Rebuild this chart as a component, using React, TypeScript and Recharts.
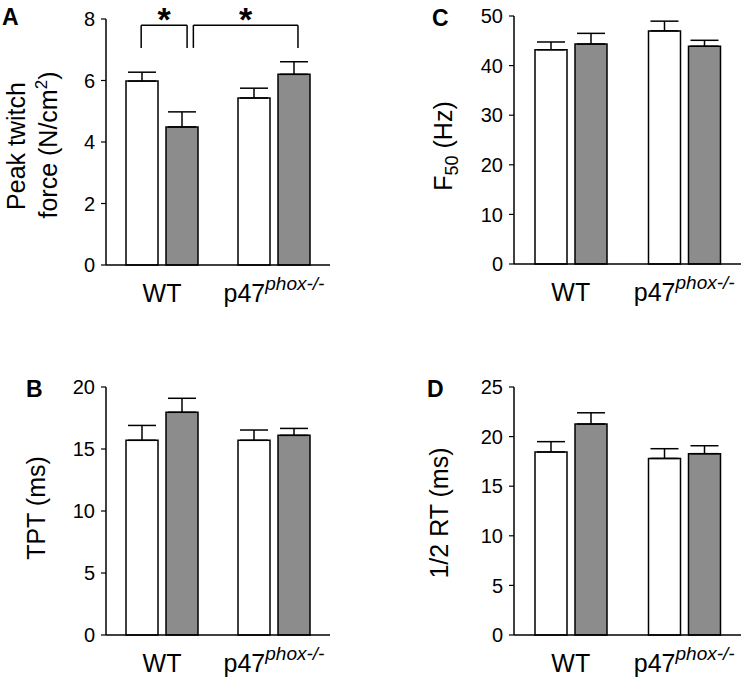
import React from 'react';
import {
  BarChart,
  Bar,
  XAxis,
  YAxis,
  ErrorBar,
  ReferenceLine,
  ReferenceDot,
  Customized,
} from 'recharts';

// Groups on the x axis
const GROUPS = ['WT', 'p47'];

// A: peak twitch force (N/cm2)
const forceWhite = [5.98, 5.43];
const forceWhiteErr = [0.29, 0.32];
const forceGray = [4.49, 6.2];
const forceGrayErr = [0.49, 0.41];

// B: TPT (ms)
const tptWhite = [15.7, 15.7];
const tptWhiteErr = [1.2, 0.83];
const tptGray = [17.96, 16.1];
const tptGrayErr = [1.13, 0.56];

// C: F50 (Hz)
const f50White = [43.2, 47.0];
const f50WhiteErr = [1.56, 1.96];
const f50Gray = [44.35, 43.9];
const f50GrayErr = [2.15, 1.2];

// D: 1/2 RT (ms)
const rtWhite = [18.45, 17.8];
const rtWhiteErr = [1.04, 0.98];
const rtGray = [21.27, 18.28];
const rtGrayErr = [1.13, 0.8];

// Significance brackets in panel A (hidden 0..1 axis across the plot, WT = 0..0.5)
const bracketStart = [0.157, 0.39];
const bracketEnd = [0.362, 0.857];
const bracketTop = 7.8;
const bracketLeg = 7.06;
const starY = 8.0;

const FONT = '"Liberation Sans", Arial, Helvetica, sans-serif';
const GRAY = '#8c8c8c';

const buildRows = (white: number[], whiteErr: number[], gray: number[], grayErr: number[]) =>
  GROUPS.map((g, i) => ({
    group: g,
    white: white[i],
    whiteErr: [0, whiteErr[i]],
    gray: gray[i],
    grayErr: [0, grayErr[i]],
  }));

const GroupTick = (props: any) => {
  const { x, y, payload } = props;
  if (payload.value === 'p47') {
    return (
      <text x={x} y={y + 37} textAnchor="middle" fontSize={25} fill="#000" fontFamily={FONT}>
        p47
        <tspan fontSize={19} fontStyle="italic" dy={-12}>
          phox-/-
        </tspan>
      </text>
    );
  }
  return (
    <text x={x} y={y + 37} textAnchor="middle" fontSize={25} fill="#000" fontFamily={FONT}>
      {payload.value}
    </text>
  );
};

interface TitleLine {
  x: number;
  y: number;
  node: React.ReactNode;
}

const Titles = ({ letter, letterX, letterY, lines }: { letter: string; letterX: number; letterY: number; lines: TitleLine[] }) => (
  <g fontFamily={FONT} fill="#000">
    <text x={letterX} y={letterY} fontSize={23} fontWeight="bold">
      {letter}
    </text>
    {lines.map((l, i) => (
      <text
        key={i}
        x={l.x}
        y={l.y}
        fontSize={25}
        textAnchor="middle"
        transform={`rotate(-90, ${l.x}, ${l.y})`}
      >
        {l.node}
      </text>
    ))}
  </g>
);

interface PanelProps {
  left: number;
  top: number;
  width: number;
  height: number;
  yWidth: number;
  marginTop: number;
  marginRight: number;
  xHeight: number;
  rows: any[];
  domain: [number, number];
  ticks: number[];
  letter: string;
  letterX: number;
  letterY: number;
  lines: TitleLine[];
  brackets?: boolean;
}

const Panel: React.FC<PanelProps> = ({
  left,
  top,
  width,
  height,
  yWidth,
  marginTop,
  marginRight,
  xHeight,
  rows,
  domain,
  ticks,
  letter,
  letterX,
  letterY,
  lines,
  brackets = false,
}) => {
  const bracketLines: React.ReactNode[] = [];
  if (brackets) {
    bracketStart.forEach((x1, i) => {
      const x2 = bracketEnd[i];
      const segs = [
        [{ x: x1, y: bracketLeg }, { x: x1, y: bracketTop }],
        [{ x: x1, y: bracketTop }, { x: x2, y: bracketTop }],
        [{ x: x2, y: bracketTop }, { x: x2, y: bracketLeg }],
      ];
      segs.forEach((seg, j) => {
        bracketLines.push(
          <ReferenceLine
            key={`br-${i}-${j}`}
            xAxisId="num"
            segment={seg}
            stroke="#000"
            strokeWidth={1.5}
            ifOverflow="visible"
          />
        );
      });
      bracketLines.push(
        <ReferenceDot
          key={`star-${i}`}
          xAxisId="num"
          x={(x1 + x2) / 2}
          y={starY}
          r={0}
          ifOverflow="visible"
          label={{ value: '*', position: 'center', fontSize: 34, fontWeight: 'bold', fill: '#000' }}
        />
      );
    });
  }

  return (
    <div style={{ position: 'absolute', left, top, width, height }}>
      <BarChart
        width={width}
        height={height}
        data={rows}
        margin={{ top: marginTop, right: marginRight, left: 0, bottom: 0 }}
        barSize={32}
        barGap={8}
      >
        <XAxis
          dataKey="group"
          height={xHeight}
          tickLine={false}
          tickSize={0}
          tickMargin={0}
          axisLine={{ stroke: '#000', strokeWidth: 1.5 }}
          tick={<GroupTick />}
          interval={0}
        />
        <XAxis xAxisId="num" type="number" domain={[0, 1]} allowDataOverflow hide />
        <YAxis
          width={yWidth}
          domain={domain}
          ticks={ticks}
          interval={0}
          tickSize={5}
          tickMargin={6}
          axisLine={{ stroke: '#000', strokeWidth: 1.5 }}
          tickLine={{ stroke: '#000', strokeWidth: 1.2 }}
          tick={{ fontSize: 20, fill: '#000', fontFamily: FONT }}
        />
        <Bar dataKey="white" fill="#fff" stroke="#000" strokeWidth={1.5} isAnimationActive={false}>
          <ErrorBar dataKey="whiteErr" direction="y" width={14} stroke="#000" strokeWidth={1.5} />
        </Bar>
        <Bar dataKey="gray" fill={GRAY} stroke="#000" strokeWidth={1.5} isAnimationActive={false}>
          <ErrorBar dataKey="grayErr" direction="y" width={14} stroke="#000" strokeWidth={1.5} />
        </Bar>
        {bracketLines}
        <Customized
          component={<Titles letter={letter} letterX={letterX} letterY={letterY} lines={lines} />}
        />
      </BarChart>
    </div>
  );
};

export default function App() {
  const forceRows = buildRows(forceWhite, forceWhiteErr, forceGray, forceGrayErr);
  const tptRows = buildRows(tptWhite, tptWhiteErr, tptGray, tptGrayErr);
  const f50Rows = buildRows(f50White, f50WhiteErr, f50Gray, f50GrayErr);
  const rtRows = buildRows(rtWhite, rtWhiteErr, rtGray, rtGrayErr);

  return (
    <div
      style={{
        position: 'absolute',
        left: 0,
        top: 0,
        width: 742,
        height: 681,
        overflow: 'hidden',
        background: '#fff',
        fontFamily: FONT,
      }}
    >
      <Panel
        left={0}
        top={0}
        width={340}
        height={320}
        yWidth={106}
        marginTop={19}
        marginRight={10}
        xHeight={55}
        rows={forceRows}
        domain={[0, 8]}
        ticks={[0, 2, 4, 6, 8]}
        letter="A"
        letterX={2}
        letterY={25}
        brackets
        lines={[
          { x: 25, y: 146, node: 'Peak twitch' },
          {
            x: 57,
            y: 145,
            node: (
              <>
                force (N/cm
                <tspan fontSize={17} dy={-10}>2</tspan>
                <tspan dy={10}>)</tspan>
              </>
            ),
          },
        ]}
      />
      <Panel
        left={371}
        top={0}
        width={371}
        height={320}
        yWidth={143}
        marginTop={16}
        marginRight={1}
        xHeight={56}
        rows={f50Rows}
        domain={[0, 50]}
        ticks={[0, 10, 20, 30, 40, 50]}
        letter="C"
        letterX={61}
        letterY={26}
        lines={[
          {
            x: 81,
            y: 146,
            node: (
              <>
                F
                <tspan fontSize={18} dy={6}>50</tspan>
                <tspan dy={-6}> (Hz)</tspan>
              </>
            ),
          },
        ]}
      />
      <Panel
        left={0}
        top={370}
        width={340}
        height={311}
        yWidth={106}
        marginTop={17}
        marginRight={10}
        xHeight={46}
        rows={tptRows}
        domain={[0, 20]}
        ticks={[0, 5, 10, 15, 20]}
        letter="B"
        letterX={26}
        letterY={27}
        lines={[{ x: 45, y: 138, node: 'TPT (ms)' }]}
      />
      <Panel
        left={371}
        top={370}
        width={371}
        height={311}
        yWidth={143}
        marginTop={17}
        marginRight={1}
        xHeight={46}
        rows={rtRows}
        domain={[0, 25]}
        ticks={[0, 5, 10, 15, 20, 25]}
        letter="D"
        letterX={56}
        letterY={27}
        lines={[{ x: 77, y: 143, node: '1/2 RT (ms)' }]}
      />
    </div>
  );
}
